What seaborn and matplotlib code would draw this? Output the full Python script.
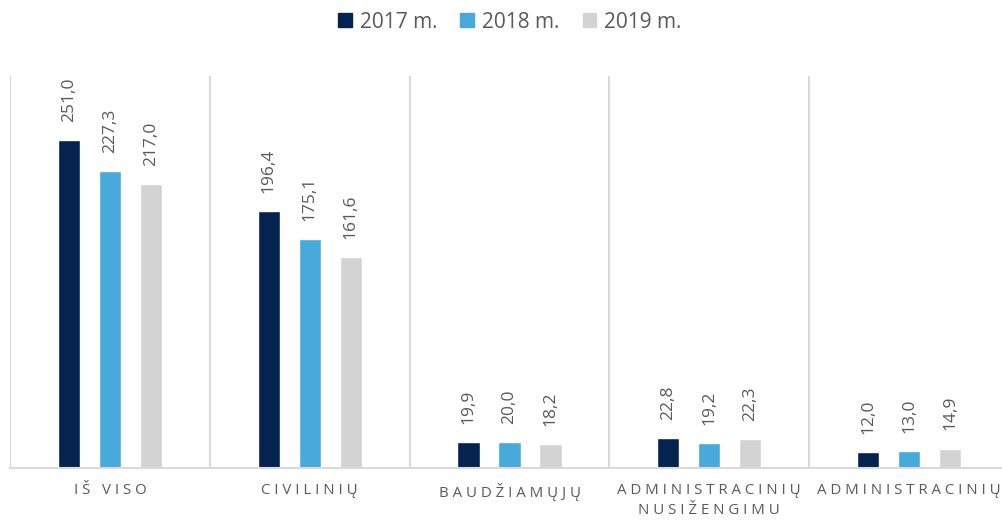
import matplotlib
matplotlib.use("Agg")
import matplotlib.pyplot as plt
import pandas as pd
import seaborn as sns

categories = ["IŠ VISO", "CIVILINIŲ", "BAUDŽIAMŲJŲ", "ADMINISTRACINIŲ\nNUSIŽENGIMU", "ADMINISTRACINIŲ"]
years = ["2017 m.", "2018 m.", "2019 m."]
v2017 = [251.0, 196.4, 19.9, 22.8, 12.0]
v2018 = [227.3, 175.1, 20.0, 19.2, 13.0]
v2019 = [217.0, 161.6, 18.2, 22.3, 14.9]
colors = ["#04244F", "#47AADB", "#D3D3D3"]

rows = []
for year, vals in zip(years, [v2017, v2018, v2019]):
    for cat, v in zip(categories, vals):
        rows.append({"kategorija": cat, "metai": year, "reiksme": v})
df = pd.DataFrame(rows)

def spaced(s):
    # imituojam raidziu tarpus
    return "\n".join(" ".join(line) for line in s.split("\n"))

sns.set_style("white")
plt.rcParams['font.family'] = ['Open Sans', 'DejaVu Sans']
txt = "#595959"

fig = plt.figure(figsize=(10.02, 5.23), dpi=100)
ax = fig.add_axes([10 / 1002, (523 - 468) / 523, 999 / 1002, (468 - 76) / 523])
sns.barplot(data=df, x="kategorija", y="reiksme", hue="metai", palette=colors,
            width=0.615, gap=0.46, saturation=1, ax=ax, legend=False)

for cont in ax.containers:
    ax.bar_label(cont, labels=[f"{b.get_height():.1f}".replace(".", ",") for b in cont],
                 rotation=90, padding=13, color=txt, fontsize=12.5)

ax.set_ylim(0, 300)
ax.set_xlim(-0.5, 4.5)
ax.set_yticks([])
ax.set_xlabel("")
ax.set_ylabel("")
for sp in ["top", "right", "left"]:
    ax.spines[sp].set_visible(False)
ax.spines["bottom"].set_color("#D9D9D9")
ax.spines["bottom"].set_linewidth(1.5)
for x in [-0.5, 0.5, 1.5, 2.5, 3.5, 4.5]:
    ax.axvline(x, color="#D9D9D9", lw=1.5, zorder=0)
ax.set_xticks(range(len(categories)))
ax.set_xticklabels([spaced(c) for c in categories], color=txt, fontsize=10.8,
                   linespacing=1.45)
ax.tick_params(axis="x", length=0, pad=11)

handles = [plt.Rectangle((0, 0), 1, 1, color=c) for c in colors]
fig.legend(handles, years, loc="center", bbox_to_anchor=(510 / 1002, 1 - 22 / 523),
           ncol=3, frameon=False, fontsize=15, labelcolor=txt,
           handlelength=0.65, handleheight=0.65, handletextpad=0.4, columnspacing=1.1)

fig.savefig("out.png", dpi=100)
